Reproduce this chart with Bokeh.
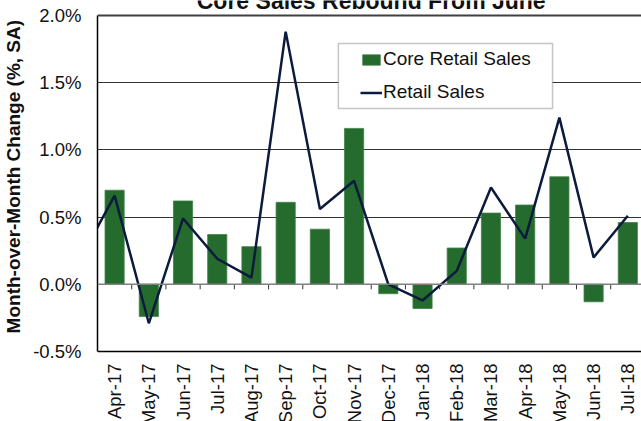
import math
from bokeh.plotting import figure
from bokeh.core.properties import value
from bokeh.models import (Range1d, FixedTicker, PrintfTickFormatter, Span,
                          Legend, LegendItem, BoxAnnotation)
from bokeh.embed import file_html
from bokeh.resources import INLINE

# ---------------- data ----------------
months = ["Apr-17", "May-17", "Jun-17", "Jul-17", "Aug-17", "Sep-17", "Oct-17", "Nov-17",
          "Dec-17", "Jan-18", "Feb-18", "Mar-18", "Apr-18", "May-18", "Jun-18", "Jul-18"]
core_retail = [0.70, -0.24, 0.62, 0.37, 0.28, 0.61, 0.41, 1.16,
               -0.07, -0.18, 0.27, 0.53, 0.59, 0.80, -0.13, 0.46]
retail = [0.66, -0.29, 0.49, 0.19, 0.05, 1.88, 0.56, 0.77,
          0.00, -0.12, 0.10, 0.72, 0.34, 1.24, 0.20, 0.51]
retail_prior = 0.19          # Mar-17 value, only its tail is visible at the left edge
y_ticks = [-0.5, 0.0, 0.5, 1.0, 1.5, 2.0]
grid_ticks = [0.5, 1.0, 1.5]
title_text = "Core Sales Rebound From June"
y_label = "Month-over-Month Change (%, SA)"
legend_labels = ["Core Retail Sales", "Retail Sales"]

FONT = "Liberation Sans"
GREEN = "#256B2E"
NAVY = "#0B1A3D"
TXT = "#111111"

idx = list(range(len(months)))
line_x = [-1] + idx
line_y = [retail_prior] + retail

# the plotting area covers the whole canvas right of the y axis; the chart box
# itself is y_ticks[0]..y_ticks[-1], the rest holds the title and month labels
p = figure(width=641, height=421,
           x_range=Range1d(-0.5, 15.4), y_range=Range1d(-1.0208, 2.1116),
           output_backend="svg", toolbar_location=None,
           min_border_left=97, min_border_right=0, min_border_top=0, min_border_bottom=0)
p.margin = (0, 0, -8, 0)
p.outline_line_color = None
p.xaxis.visible = False

# grid
p.xgrid.visible = False
p.ygrid.ticker = FixedTicker(ticks=grid_ticks)
p.ygrid.grid_line_color = "#333333"
p.ygrid.grid_line_width = 1

# y axis (label padded at its start so that it centres on the chart box)
ya = p.yaxis[0]
ya.bounds = (y_ticks[0], y_ticks[-1])
ya.ticker = FixedTicker(ticks=y_ticks)
ya.formatter = PrintfTickFormatter(format="%.1f%%")
ya.axis_line_color = "black"
ya.axis_line_width = 1.5
ya.major_tick_out = 0
ya.major_tick_in = 0
ya.minor_tick_out = 0
ya.minor_tick_in = 0
ya.major_label_standoff = 16
ya.major_label_text_font = FONT
ya.major_label_text_font_size = "18.5px"
ya.major_label_text_color = TXT
ya.axis_label = "\u00a0" * 13 + y_label
ya.axis_label_text_font = FONT
ya.axis_label_text_font_style = "bold"
ya.axis_label_text_font_size = "19px"
ya.axis_label_text_color = TXT
ya.axis_label_standoff = 6

# top line, zero line, bottom line
p.add_layout(Span(location=y_ticks[-1], dimension="width", line_color="#404040", line_width=2))
p.add_layout(Span(location=0, dimension="width", line_color="#808080", line_width=1.5))
p.add_layout(Span(location=y_ticks[0], dimension="width", line_color="black", line_width=1.5))

# data
bars = p.vbar(x=idx, top=core_retail, bottom=0, width=0.56,
              fill_color=GREEN, line_color="#3E8246", line_width=0.8)
line = p.line(x=line_x, y=line_y, line_color=NAVY, line_width=2.5)

# category ticks below the zero line (between categories)
p.ray(x=[i + 0.5 for i in idx[:-1]], y=[0] * (len(idx) - 1), length=5, length_units="screen",
      angle=-math.pi / 2, line_color="#333333", line_width=1)

# category labels below the chart box
p.text(x=idx, y=[y_ticks[0]] * len(idx), text=months, angle=math.pi / 2,
       text_align="right", text_baseline="middle", y_offset=12,
       text_font=value(FONT), text_font_size="18.5px", text_color=TXT)

# title (cropped at top, as in the reference)
p.text(x=[7.5], y=[y_ticks[-1]], text=[title_text], y_offset=-14,
       text_align="center", text_baseline="alphabetic",
       text_font=value(FONT), text_font_style="bold", text_font_size="23px", text_color=TXT)

# legend box + legend
p.add_layout(BoxAnnotation(left=6.54, right=12.80, top=1.792, bottom=1.308,
                           fill_color="white", fill_alpha=1.0,
                           line_color="#404040", line_width=1.5))
legend = Legend(items=[LegendItem(label=legend_labels[0], renderers=[bars]),
                       LegendItem(label=legend_labels[1], renderers=[line])],
                location=(263, 318), padding=0, spacing=11, margin=0,
                glyph_width=22, glyph_height=13, label_standoff=1,
                label_text_font=FONT, label_text_font_size="19px",
                label_text_color=TXT,
                border_line_alpha=0, background_fill_alpha=0)
p.add_layout(legend)

open("out.html", "w").write(file_html(p, INLINE))
